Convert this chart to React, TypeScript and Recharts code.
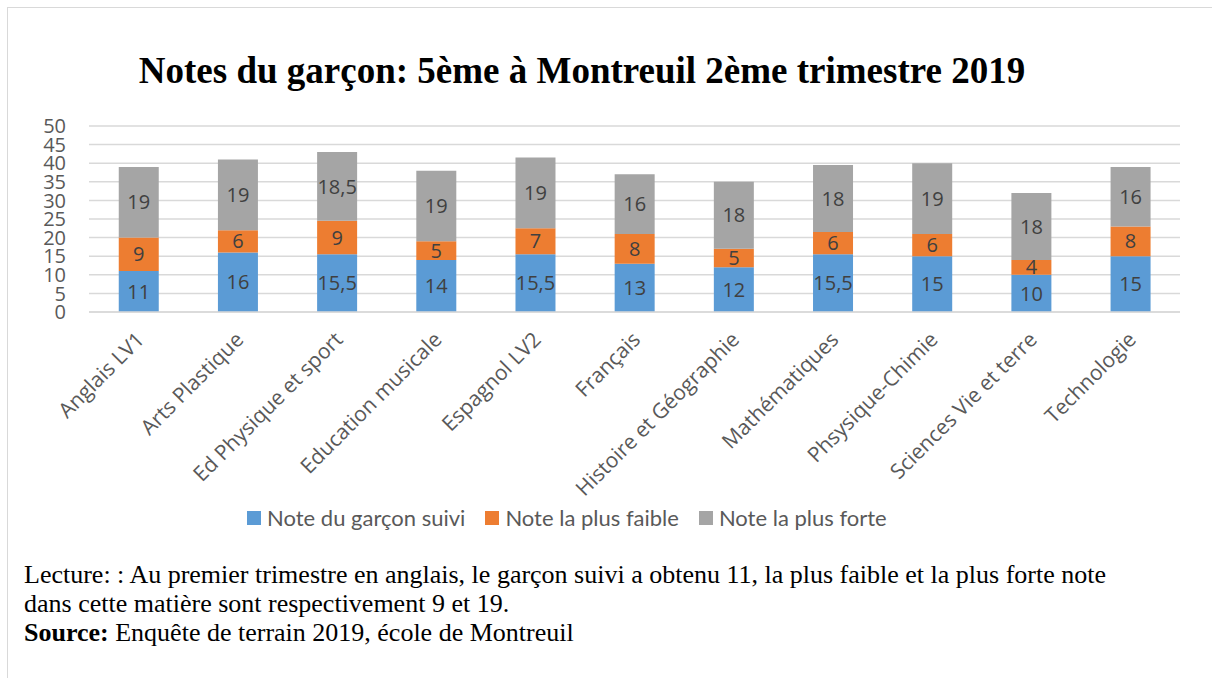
import React from "react";
import {
  BarChart,
  Bar,
  CartesianGrid,
  XAxis,
  YAxis,
  Legend,
  LabelList,
} from "recharts";

const matieres = [
  "Anglais LV1",
  "Arts Plastique",
  "Ed Physique et sport",
  "Education musicale",
  "Espagnol LV2",
  "Français",
  "Histoire et Géographie",
  "Mathématiques",
  "Phsysique-Chimie",
  "Sciences Vie et terre",
  "Technologie",
];
const noteGarcon = [11, 16, 15.5, 14, 15.5, 13, 12, 15.5, 15, 10, 15];
const notePlusFaible = [9, 6, 9, 5, 7, 8, 5, 6, 6, 4, 8];
const notePlusForte = [19, 19, 18.5, 19, 19, 16, 18, 18, 19, 18, 16];
const yTicks = [0, 5, 10, 15, 20, 25, 30, 35, 40, 45, 50];

const data = matieres.map((m, i) => ({
  matiere: m,
  garcon: noteGarcon[i],
  faible: notePlusFaible[i],
  forte: notePlusForte[i],
}));

const FONT = "'Open Sans', sans-serif";
const fmt = (v: any) => String(v).replace(".", ",");

const AngledTick = (props: any) => {
  const { x, y, payload } = props;
  return (
    <g transform={`translate(${x},${y})`}>
      <text
        x={7}
        y={27}
        transform="rotate(-45, 7, 27)"
        textAnchor="end"
        fill="#595959"
        fontSize={21}
        fontFamily={FONT}
      >
        {payload.value}
      </text>
    </g>
  );
};

// legend drawn like the Excel one: 14px squares, wide gaps
const LegendContent = (props: any) => {
  const items = props.payload || [];
  return (
    <div style={{ display: "flex", alignItems: "center" }}>
      {items.map((it: any) => (
        <div
          key={it.value}
          style={{ display: "flex", alignItems: "center", marginRight: 20 }}
        >
          <span
            style={{
              display: "inline-block",
              width: 14,
              height: 14,
              background: it.color,
              marginRight: 6,
            }}
          />
          <span
            style={{
              color: "#595959",
              fontFamily: "Lato, sans-serif",
              fontSize: 22,
              lineHeight: "26px",
            }}
          >
            {it.value}
          </span>
        </div>
      ))}
    </div>
  );
};

const App: React.FC = () => {
  return (
    <div
      style={{
        position: "absolute",
        left: 0,
        top: 0,
        width: 1212,
        height: 678,
        background: "#fff",
        overflow: "hidden",
      }}
    >
      <div
        style={{
          position: "absolute",
          left: 7,
          top: 7,
          width: 1220,
          height: 700,
          border: "1.5px solid #d9d9d9",
        }}
      />
      <div
        style={{
          position: "absolute",
          left: 0,
          top: 50,
          width: 1164,
          textAlign: "center",
          fontFamily: "'Liberation Serif', serif",
          fontWeight: "bold",
          fontSize: 37,
          lineHeight: "42px",
          color: "#000",
        }}
      >
        Notes du garçon: 5ème à Montreuil 2ème trimestre 2019
      </div>
      <div style={{ position: "absolute", left: 0, top: 0 }}>
        <BarChart
          width={1212}
          height={560}
          data={data}
          margin={{ top: 126, right: 32, left: 29, bottom: 58 }}
          barCategoryGap="30%"
        >
          <CartesianGrid
            vertical={false}
            stroke="#d9d9d9"
            strokeWidth={1.5}
          />
          <XAxis
            dataKey="matiere"
            interval={0}
            height={190}
            tickLine={false}
            tickSize={0}
            axisLine={{ stroke: "#d9d9d9", strokeWidth: 1.5 }}
            tick={<AngledTick />}
          />
          <YAxis
            width={60}
            domain={[0, 50]}
            ticks={yTicks}
            interval={0}
            axisLine={false}
            tickLine={false}
            tickSize={0}
            tickMargin={23}
            tick={{ fill: "#595959", fontSize: 20, fontFamily: FONT }}
          />
          <Legend
            layout="horizontal"
            verticalAlign="middle"
            align="center"
            wrapperStyle={{ left: 247, top: 505, width: "auto" }}
            content={<LegendContent />}
          />
          <Bar
            dataKey="garcon"
            name="Note du garçon suivi"
            stackId="a"
            fill="#5B9BD5"
            isAnimationActive={false}
          >
            <LabelList
              dataKey="garcon"
              position="center"
              formatter={fmt}
              fill="#404040"
              fontSize={20}
              fontFamily={FONT}
            />
          </Bar>
          <Bar
            dataKey="faible"
            name="Note la plus faible"
            stackId="a"
            fill="#ED7D31"
            isAnimationActive={false}
          >
            <LabelList
              dataKey="faible"
              position="center"
              formatter={fmt}
              fill="#404040"
              fontSize={20}
              fontFamily={FONT}
            />
          </Bar>
          <Bar
            dataKey="forte"
            name="Note la plus forte"
            stackId="a"
            fill="#A5A5A5"
            isAnimationActive={false}
          >
            <LabelList
              dataKey="forte"
              position="center"
              formatter={fmt}
              fill="#404040"
              fontSize={20}
              fontFamily={FONT}
            />
          </Bar>
        </BarChart>
      </div>
      <div
        style={{
          position: "absolute",
          left: 24,
          top: 560,
          fontFamily: "'Liberation Serif', serif",
          fontSize: 26,
          lineHeight: "29px",
          color: "#000",
          whiteSpace: "nowrap",
        }}
      >
        <div>
          Lecture: : Au premier trimestre en anglais, le garçon suivi a obtenu
          11, la plus faible et la plus forte note
        </div>
        <div>dans cette matière sont respectivement 9 et 19.</div>
        <div>
          <b>Source:</b> Enquête de terrain 2019, école de Montreuil
        </div>
      </div>
    </div>
  );
};

export default App;
